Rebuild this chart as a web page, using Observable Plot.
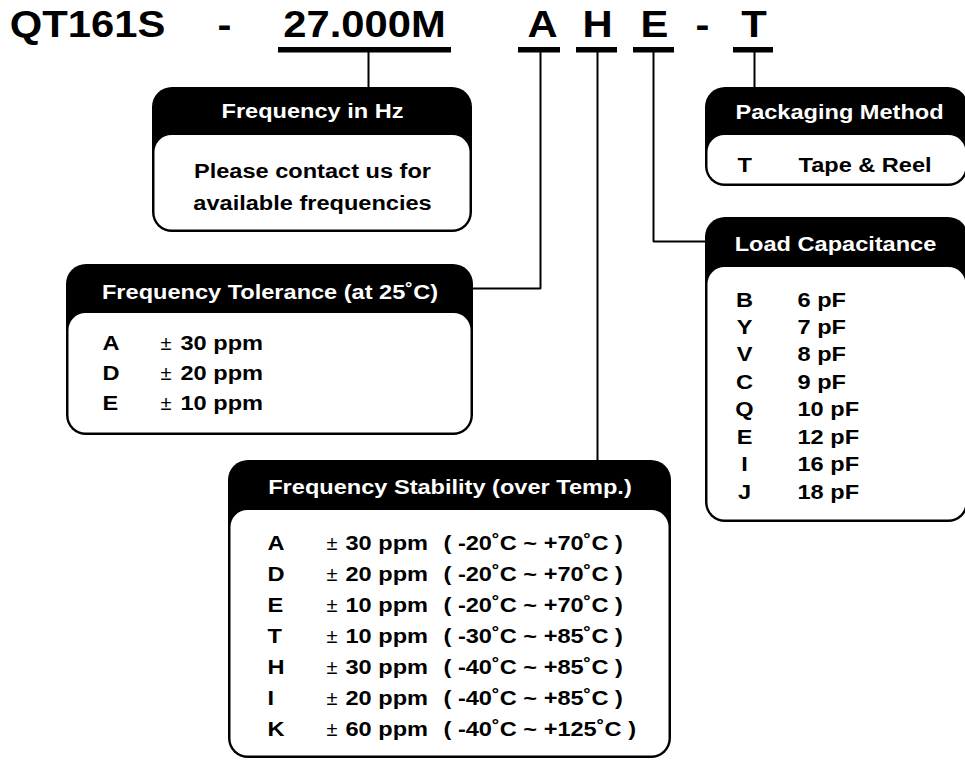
<!DOCTYPE html>
<html>
<head>
<meta charset="utf-8">
<script src="https://cdn.jsdelivr.net/npm/d3@7"></script>
<script src="https://cdn.jsdelivr.net/npm/@observablehq/plot@0.6"></script>
<style>
  html, body { margin: 0; padding: 0; background: #fff; }
  #chart { width: 965px; height: 760px; overflow: hidden; }
  #chart svg { overflow: hidden; }
</style>
</head>
<body>
<div id="chart"></div>
<script>
// ---- content (text data) ----
const partSegments = ["QT161S", "-", "27.000M", "A", "H", "E", "-", "T"];
const underlined   = [false, false, true, true, true, true, false, true];

const hzTitle = "Frequency in Hz";
const hzLines = ["Please contact us for", "available frequencies"];

const tolTitle  = "Frequency Tolerance (at 25˚C)";
const tolCodes  = ["A", "D", "E"];
const tolValues = ["30 ppm", "20 ppm", "10 ppm"];

const stabTitle  = "Frequency Stability (over Temp.)";
const stabCodes  = ["A", "D", "E", "T", "H", "I", "K"];
const stabValues = ["30 ppm", "20 ppm", "10 ppm", "10 ppm", "30 ppm", "20 ppm", "60 ppm"];
const stabRanges = ["( -20˚C ~ +70˚C )", "( -20˚C ~ +70˚C )", "( -20˚C ~ +70˚C )",
                    "( -30˚C ~ +85˚C )", "( -40˚C ~ +85˚C )", "( -40˚C ~ +85˚C )",
                    "( -40˚C ~ +125˚C )"];

const pkgTitle  = "Packaging Method";
const pkgCodes  = ["T"];
const pkgValues = ["Tape & Reel"];

const loadTitle  = "Load Capacitance";
const loadCodes  = ["B", "Y", "V", "C", "Q", "E", "I", "J"];
const loadValues = ["6 pF", "7 pF", "8 pF", "9 pF", "10 pF", "12 pF", "16 pF", "18 pF"];

// ---- layout (positions in pixel space of the diagram) ----
const L = {
  title: {y: 36, cx: [87, 224, 364, 542, 597, 654, 702, 753.5],
          ul: [null, null, [278, 451], [518, 560], [576, 617], [633, 674], null, [733, 773]],
          ulY: [47, 52.5]},
  boxes: {
    hz:   {x1: 152, x2: 472, y1: 87,  y2: 232, hb: 135, ty: 117, tx: 312},
    tol:  {x1: 66,  x2: 473, y1: 264, y2: 435, hb: 313, ty: 298, tx: 269.5},
    stab: {x1: 228, x2: 671, y1: 460, y2: 758, hb: 510, ty: 493, tx: 449.5},
    pkg:  {x1: 705, x2: 968, y1: 87,  y2: 186, hb: 135, ty: 118, tx: 839},
    load: {x1: 705, x2: 968, y1: 217, y2: 522, hb: 267, ty: 250, tx: 835}
  },
  connectors: [
    [[368, 52], [368, 87]],
    [[540, 52], [540, 288], [473, 288]],
    [[597, 52], [597, 460]],
    [[653, 52], [653, 241], [705, 241]],
    [[754, 52], [754, 87]]
  ]
};

const F = "Liberation Sans, Arial, Helvetica, sans-serif";
const boxes = Object.entries(L.boxes).map(([k, b]) => ({key: k, ...b}));
const border = 2.5;

const titles = {hz: hzTitle, tol: tolTitle, stab: stabTitle, pkg: pkgTitle, load: loadTitle};
const headerText = boxes.map(b => ({x: b.tx, y: b.ty, t: titles[b.key]}));

const titleData = partSegments.map((s, i) => ({t: s, x: L.title.cx[i], y: L.title.y}));
const ulData = partSegments.map((s, i) => ({u: underlined[i], r: L.title.ul[i]}))
  .filter(d => d.u).map(d => ({x1: d.r[0], x2: d.r[1], y1: L.title.ulY[0], y2: L.title.ulY[1]}));

const connData = L.connectors.flatMap((pts, i) => pts.map(p => ({x: p[0], y: p[1], z: i})));

const hzData = hzLines.map((t, i) => ({t, x: 312, y: 177 + i * 32}));

const tolRows = tolCodes.map((c, i) => ({c, v: tolValues[i], y: 349 + i * 30.2}));
const stabRows = stabCodes.map((c, i) => ({c, v: stabValues[i], r: stabRanges[i], y: 549.3 + i * 31.1}));
const pkgRows = pkgCodes.map((c, i) => ({c, v: pkgValues[i], y: 171}));
const loadRows = loadCodes.map((c, i) => ({c, v: loadValues[i], y: 306 + i * 27.45}));

const txt = (data, opts) => Plot.text(data, {fontFamily: F, fontWeight: "bold", fontSize: 20.5,
  lineAnchor: "bottom", fill: "black", ...opts});
const pm = (data, x) => Plot.text(data, {x: () => x, y: "y", text: () => "±", fontFamily: F,
  fontSize: 20, fontWeight: "normal", textAnchor: "start", lineAnchor: "bottom", fill: "black"});

const chart = Plot.plot({
  width: 965, height: 760, margin: 0,
  x: {domain: [0, 965], range: [0, 965], axis: null},
  y: {domain: [0, 760], range: [0, 760], axis: null},
  marks: [
    // connectors
    Plot.line(connData, {x: "x", y: "y", z: "z", stroke: "black", strokeWidth: 2, strokeLinejoin: "miter"}),
    // underlines
    Plot.rect(ulData, {x1: "x1", x2: "x2", y1: "y1", y2: "y2", fill: "black"}),
    // title
    Plot.text(titleData, {x: "x", y: "y", text: "t", fontFamily: F, fontWeight: "bold", fontSize: 36,
      textAnchor: "middle", lineAnchor: "bottom", fill: "black"}),
    // boxes: black rounded outer, white rounded inner
    Plot.rect(boxes, {x1: "x1", x2: "x2", y1: "y1", y2: "y2", fill: "black", rx: 20}),
    Plot.rect(boxes, {x1: d => d.x1 + border, x2: d => d.x2 - border, y1: "hb", y2: d => d.y2 - border,
      fill: "white", rx: 17}),
    // header texts
    txt(headerText, {x: "x", y: "y", text: "t", fill: "white", textAnchor: "middle"}),
    // Frequency in Hz
    txt(hzData, {x: "x", y: "y", text: "t", textAnchor: "middle"}),
    // Tolerance
    txt(tolRows, {x: () => 102, y: "y", text: "c", textAnchor: "start"}),
    pm(tolRows, 160),
    txt(tolRows, {x: () => 180, y: "y", text: "v", textAnchor: "start"}),
    // Stability
    txt(stabRows, {x: () => 267, y: "y", text: "c", textAnchor: "start"}),
    pm(stabRows, 326),
    txt(stabRows, {x: () => 345, y: "y", text: "v", textAnchor: "start"}),
    txt(stabRows, {x: () => 443, y: "y", text: "r", textAnchor: "start"}),
    // Packaging
    txt(pkgRows, {x: () => 737, y: "y", text: "c", textAnchor: "start"}),
    txt(pkgRows, {x: () => 798, y: "y", text: "v", textAnchor: "start"}),
    // Load capacitance
    txt(loadRows, {x: () => 744, y: "y", text: "c", textAnchor: "middle"}),
    txt(loadRows, {x: () => 797, y: "y", text: "v", textAnchor: "start"})
  ]
});

// The reference lettering is a horizontally widened Helvetica; widen glyphs about their anchor.
d3.select(chart).selectAll("text").each(function () {
  const t = d3.select(this);
  if (t.text() === "±") return;
  const sx = +(this.parentNode.getAttribute("font-size")) >= 30 ? 1.16 : 1.15;
  let tr = t.attr("transform");
  if (!tr) {
    const x = +t.attr("x") || 0, y = +t.attr("y") || 0;
    t.attr("x", null).attr("y", null);
    tr = `translate(${x},${y})`;
  }
  t.attr("transform", `${tr} scale(${sx},1)`);
});

document.getElementById("chart").appendChild(chart);
</script>
</body>
</html>
